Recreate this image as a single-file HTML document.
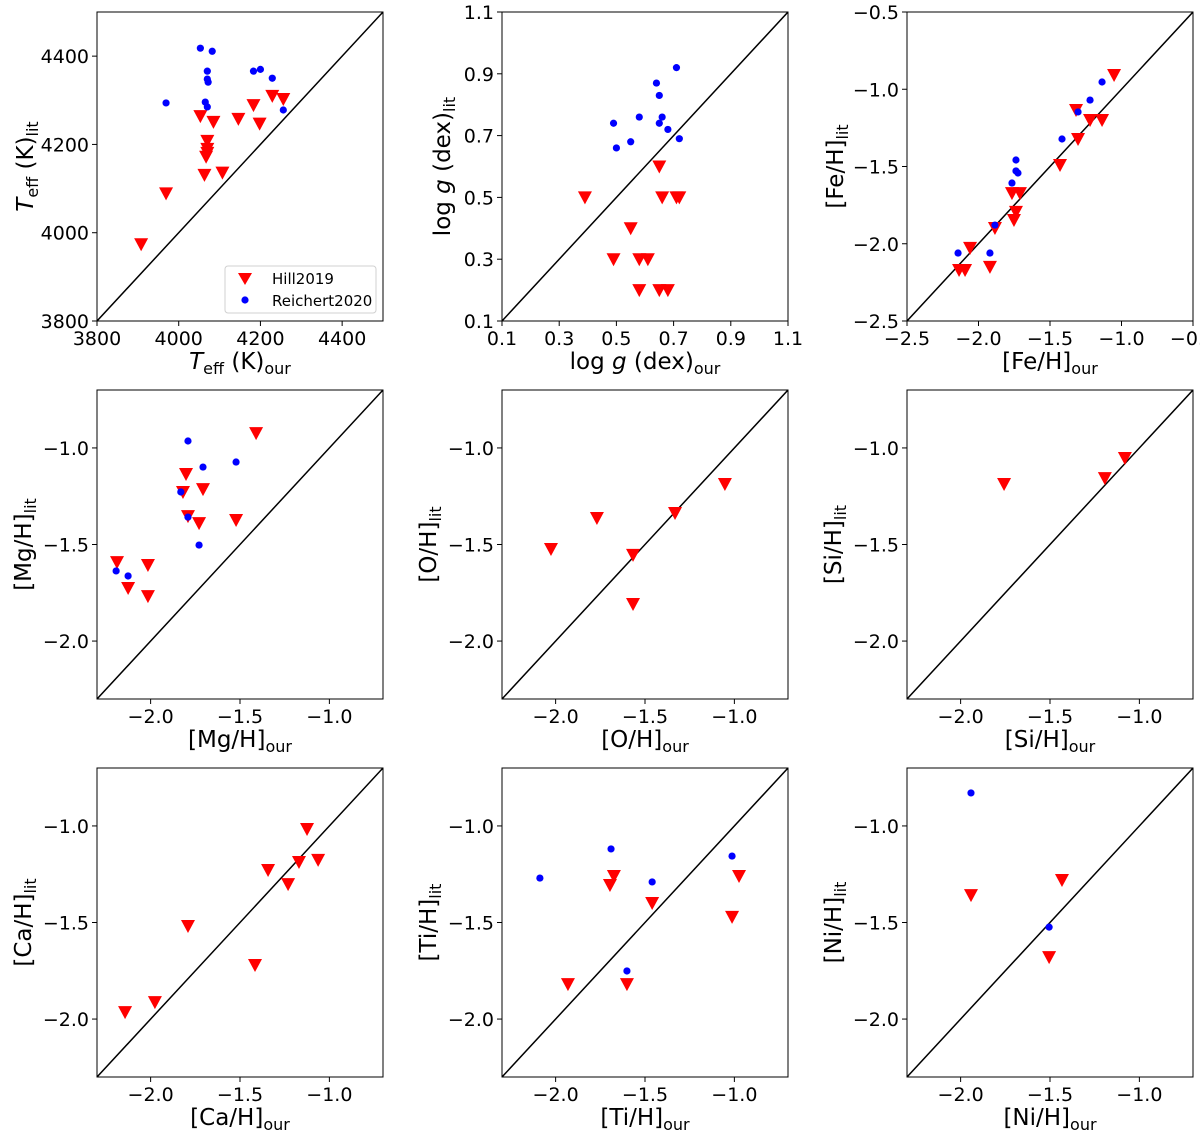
<!DOCTYPE html>
<html><head><meta charset="utf-8"><style>
html,body{margin:0;padding:0;background:#fff;}
svg text{font-family:"DejaVu Sans","Liberation Sans",sans-serif;fill:#000;}
</style></head><body>
<svg id="fig" xmlns="http://www.w3.org/2000/svg" width="1200" height="1143" viewBox="0 0 1200 1143"></svg>
<script>
// Panel 1: Teff
const teffHillX=[3908,3969,4053,4070,4070,4070,4067,4063,4085,4107,4146,4183,4198,4229,4256];
const teffHillY=[3974,4089,4264,4208,4190,4181,4172,4131,4251,4136,4258,4289,4247,4310,4303];
const teffReiX=[3969,4053,4082,4070,4070,4072,4065,4070,4183,4200,4229,4256];
const teffReiY=[4294,4418,4411,4366,4348,4341,4296,4285,4366,4370,4350,4278];
// Panel 2: logg
const loggHillX=[0.39,0.49,0.55,0.58,0.58,0.61,0.65,0.66,0.65,0.68,0.71,0.72];
const loggHillY=[0.50,0.30,0.40,0.20,0.30,0.30,0.60,0.50,0.20,0.20,0.50,0.50];
const loggReiX=[0.49,0.50,0.55,0.58,0.64,0.65,0.66,0.65,0.68,0.71,0.72];
const loggReiY=[0.74,0.66,0.68,0.76,0.87,0.83,0.76,0.74,0.72,0.92,0.69];
// Panel 3: Fe
const feHillX=[-2.136,-2.094,-2.059,-1.920,-1.885,-1.766,-1.752,-1.738,-1.710,-1.430,-1.318,-1.304,-1.220,-1.136,-1.052];
const feHillY=[-2.170,-2.170,-2.027,-2.150,-1.898,-1.672,-1.846,-1.794,-1.672,-1.490,-1.134,-1.322,-1.199,-1.199,-0.908];
const feReiX=[-2.143,-1.920,-1.885,-1.766,-1.738,-1.738,-1.724,-1.416,-1.304,-1.220,-1.136];
const feReiY=[-2.060,-2.060,-1.879,-1.607,-1.529,-1.458,-1.542,-1.322,-1.147,-1.070,-0.953];
// Panel 4: Mg
const mgHillX=[-2.188,-2.126,-2.015,-2.015,-1.802,-1.791,-1.729,-1.707,-1.522,-1.410,-1.819];
const mgHillY=[-1.591,-1.725,-1.606,-1.767,-1.135,-1.353,-1.389,-1.213,-1.373,-0.923,-1.228];
const mgReiX=[-2.193,-2.126,-1.791,-1.707,-1.522,-1.831,-1.791,-1.729];
const mgReiY=[-1.637,-1.663,-0.964,-1.099,-1.073,-1.228,-1.358,-1.503];
// Panel 5: O
const oHillX=[-2.026,-1.769,-1.567,-1.567,-1.332,-1.053];
const oHillY=[-1.523,-1.363,-1.554,-1.808,-1.337,-1.187];
const oReiX=[];const oReiY=[];
// Panel 6: Si
const siHillX=[-1.757,-1.193,-1.081];
const siHillY=[-1.187,-1.156,-1.052];
const siReiX=[];const siReiY=[];
// Panel 7: Ca
const caHillX=[-2.143,-1.976,-1.791,-1.416,-1.343,-1.231,-1.170,-1.125,-1.063];
const caHillY=[-1.964,-1.912,-1.518,-1.720,-1.228,-1.301,-1.187,-1.016,-1.176];
const caReiX=[];const caReiY=[];
// Panel 8: Ti
const tiHillX=[-1.931,-1.696,-1.674,-1.601,-1.460,-1.013,-0.974];
const tiHillY=[-1.819,-1.306,-1.259,-1.819,-1.399,-1.471,-1.259];
const tiReiX=[-2.088,-1.690,-1.460,-1.601,-1.013];
const tiReiY=[-1.270,-1.119,-1.290,-1.751,-1.156];
// Panel 9: Ni
const niHillX=[-1.942,-1.505,-1.433];
const niHillY=[-1.358,-1.679,-1.280];
const niReiX=[-1.942,-1.505];
const niReiY=[-0.829,-1.524];
// Ticks
const teffTicks=[3800,4000,4200,4400];
const loggTicks=[0.1,0.3,0.5,0.7,0.9,1.1];
const feXTicks=[-2.5,-2.0,-1.5,-1.0,-0.5];
const feYTicks=[-0.5,-1.0,-1.5,-2.0,-2.5];
const abXTicks=[-2.0,-1.5,-1.0];
const abYTicks=[-1.0,-1.5,-2.0];

const NS="http://www.w3.org/2000/svg";
const svg=document.getElementById('fig');
function mk(tag,attrs,parent){const e=document.createElementNS(NS,tag);for(const k in attrs)e.setAttribute(k,attrs[k]);(parent||svg).appendChild(e);return e;}
function fmt(v,dec){let s=dec===0?String(Math.round(v)):v.toFixed(dec);return s.replace('-','\u2212');}
function label(parent,x,y,rot,parts){
  const t=mk('text',{x:x,y:y,'font-size':23,'text-anchor':'middle'},parent);
  if(rot)t.setAttribute('transform','rotate(-90 '+x+' '+y+')');
  parts.forEach(p=>{const s=mk('tspan',{},t);s.textContent=p.t;
    if(p.i)s.setAttribute('font-style','italic');
    if(p.sub){s.setAttribute('font-size',16);s.setAttribute('dy',5);}
    if(p.up){s.setAttribute('dy',-5);}
  });
  return t;
}
function panel(o){
  const g=mk('g',{});
  
  
  const L=o.L,T=o.T,W=286,H=309;
  const sx=v=>L+(v-o.xmin)/(o.xmax-o.xmin)*W;
  const sy=v=>T+H-(v-o.ymin)/(o.ymax-o.ymin)*H;
  const cid='clip-'+o.name;
  const cp=mk('clipPath',{id:cid},g);mk('rect',{x:L,y:T,width:W,height:H},cp);
  const dl=mk('line',{x1:sx(Math.min(o.xmin,o.ymin)),y1:sy(Math.min(o.xmin,o.ymin)),x2:sx(Math.max(o.xmax,o.ymax)),y2:sy(Math.max(o.xmax,o.ymax)),stroke:'#000','stroke-width':1.5,'clip-path':'url(#'+cid+')'},g);
  
  
  o.hx.forEach((v,i)=>{const x=sx(v),y=sy(o.hy[i]);
    const p=mk('polygon',{points:(x-7)+','+(y-6)+' '+(x+7)+','+(y-6)+' '+x+','+(y+7),fill:'#ff0000'},g);
    
    });
  o.rx.forEach((v,i)=>{
    const c=mk('circle',{cx:sx(v),cy:sy(o.ry[i]),r:3.6,fill:'#0000ff'},g);
    
    });
  mk('rect',{x:L,y:T,width:W,height:H,fill:'none',stroke:'#000','stroke-width':1},g);
  o.xt.forEach(v=>{const x=sx(v);mk('line',{x1:x,y1:T+H,x2:x,y2:T+H+5,stroke:'#000'},g);
    const t=mk('text',{x:x,y:T+H+24,'font-size':19,'text-anchor':'middle'},g);t.textContent=fmt(v,o.dec);
    });
  o.yt.forEach(v=>{const y=sy(v);mk('line',{x1:L-5,y1:y,x2:L,y2:y,stroke:'#000'},g);
    const t=mk('text',{x:L-8,y:y+7,'font-size':19,'text-anchor':'end'},g);t.textContent=fmt(v,o.dec);
    });
  const xl=label(g,L+W/2,T+H+48,false,o.xlab);
  
  const yl=label(g,L-o.yoff,T+H/2,true,o.ylab);
  
  return {g,sx,sy};
}
function el(n,s){return [{t:'['+n+'/H]'},{t:s,sub:true}];}
const teffLab=s=>[{t:'T',i:true},{t:'eff',sub:true},{t:' (K)',up:true},{t:s,sub:true}];
const loggLab=s=>[{t:'log '},{t:'g',i:true},{t:' (dex)'},{t:s,sub:true}];
const cols=[97,502,907],rows=[12,390,768];
panel({name:'teff-panel',L:cols[0],T:rows[0],xmin:3800,xmax:4500,ymin:3800,ymax:4500,xt:teffTicks,yt:teffTicks,dec:0,hx:teffHillX,hy:teffHillY,rx:teffReiX,ry:teffReiY,xlab:teffLab('our'),ylab:teffLab('lit'),yoff:64});
panel({name:'logg-panel',L:cols[1],T:rows[0],xmin:0.1,xmax:1.1,ymin:0.1,ymax:1.1,xt:loggTicks,yt:loggTicks,dec:1,hx:loggHillX,hy:loggHillY,rx:loggReiX,ry:loggReiY,xlab:loggLab('our'),ylab:loggLab('lit'),yoff:52});
panel({name:'fe-panel',L:cols[2],T:rows[0],xmin:-2.5,xmax:-0.5,ymin:-2.5,ymax:-0.5,xt:feXTicks,yt:feYTicks,dec:1,hx:feHillX,hy:feHillY,rx:feReiX,ry:feReiY,xlab:el('Fe','our'),ylab:el('Fe','lit'),yoff:64});
const ab=[['mg','Mg',mgHillX,mgHillY,mgReiX,mgReiY],['o','O',oHillX,oHillY,oReiX,oReiY],['si','Si',siHillX,siHillY,siReiX,siReiY],
['ca','Ca',caHillX,caHillY,caReiX,caReiY],['ti','Ti',tiHillX,tiHillY,tiReiX,tiReiY],['ni','Ni',niHillX,niHillY,niReiX,niReiY]];
ab.forEach((a,i)=>{panel({name:a[0]+'-panel',L:cols[i%3],T:rows[1+Math.floor(i/3)],xmin:-2.3,xmax:-0.7,ymin:-2.3,ymax:-0.7,xt:abXTicks,yt:abYTicks,dec:1,hx:a[2],hy:a[3],rx:a[4],ry:a[5],xlab:el(a[1],'our'),ylab:el(a[1],'lit'),yoff:66});});
// legend
const lg=mk('g',{});


mk('rect',{x:225,y:266,width:151,height:47,rx:3,fill:'#fff',stroke:'#d0d0d0'},lg);
mk('polygon',{points:'238,273 252,273 245,285',fill:'#ff0000'},lg);
mk('circle',{cx:245,cy:300,r:3.6,fill:'#0000ff'},lg);
const l1=mk('text',{x:272,y:284,'font-size':15},lg);l1.textContent='Hill2019';

const l2=mk('text',{x:272,y:306,'font-size':15},lg);l2.textContent='Reichert2020';

</script>
</body></html>
